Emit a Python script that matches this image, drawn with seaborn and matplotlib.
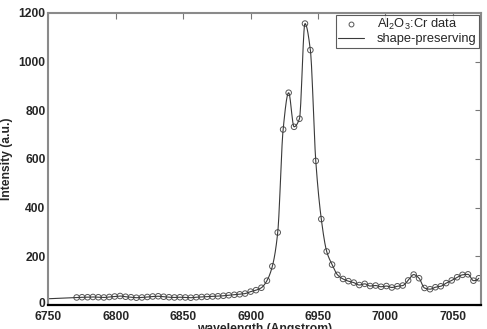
import numpy as np
import pandas as pd
import matplotlib
matplotlib.use("Agg")
import matplotlib.pyplot as plt
from matplotlib.lines import Line2D
import matplotlib.transforms as mtransforms
import seaborn as sns

# ---------------- data ----------------
wavelength = [
    6771.0, 6775.0, 6779.1, 6783.1, 6787.1, 6791.2, 6795.2, 6799.2, 6803.2, 6807.3,
    6811.3, 6815.3, 6819.4, 6823.4, 6827.4, 6831.5, 6835.5, 6839.5, 6843.5, 6847.6,
    6851.6, 6855.6, 6859.7, 6863.7, 6867.7, 6871.8, 6875.8, 6879.8, 6883.8, 6887.9,
    6891.9, 6895.9, 6900.0, 6904.0, 6908.0, 6912.1, 6916.1, 6920.1, 6924.1, 6928.2,
    6932.2, 6936.2, 6940.3, 6944.3, 6948.3, 6952.4, 6956.4, 6960.4, 6964.4, 6968.5,
    6972.5, 6976.5, 6980.6, 6984.6, 6988.6, 6992.7, 6996.7, 7000.7, 7004.7, 7008.8,
    7012.8, 7016.8, 7020.9, 7024.9, 7028.9, 7033.0, 7037.0, 7041.0, 7045.0, 7049.1,
    7053.1, 7057.1, 7061.2, 7065.2, 7069.2,
]
intensity = [
    31, 32, 32, 33, 32, 31, 33, 35, 37, 34,
    32, 30, 31, 33, 35, 36, 34, 32, 31, 32,
    31, 30, 32, 33, 34, 35, 36, 38, 40, 42,
    44, 47, 55, 61, 71, 100, 159, 298, 721, 872,
    732, 765, 1156, 1047, 592, 353, 220, 166, 124, 107,
    98, 92, 82, 87, 78, 80, 75, 78, 72, 77,
    80, 101, 125, 110, 70, 65, 73, 77, 90, 101,
    114, 124, 126, 100, 110,
]
series_labels = ["Al$_2$O$_3$:Cr data", "shape-preserving"]
x_ticks = [6750, 6800, 6850, 6900, 6950, 7000, 7050]
y_ticks = [0, 200, 400, 600, 800, 1000, 1200]
title_text = "Al$_2$O$_3$:Cr fluorescence spectrum"
x_label = "wavelength (Angstrom)"
y_label = "Intensity (a.u.)"


# ---------------- shape-preserving (PCHIP) interpolant ----------------
def pchip(x, y, xq):
    x = np.asarray(x, float)
    y = np.asarray(y, float)
    h = np.diff(x)
    delta = np.diff(y) / h
    n = len(x)
    d = np.zeros(n)
    for k in range(1, n - 1):
        if delta[k - 1] * delta[k] > 0:
            w1 = 2 * h[k] + h[k - 1]
            w2 = h[k] + 2 * h[k - 1]
            d[k] = (w1 + w2) / (w1 / delta[k - 1] + w2 / delta[k])

    def end(h0, h1, d0, d1):
        dd = ((2 * h0 + h1) * d0 - h0 * d1) / (h0 + h1)
        if np.sign(dd) != np.sign(d0):
            dd = 0.0
        elif np.sign(d0) != np.sign(d1) and abs(dd) > abs(3 * d0):
            dd = 3 * d0
        return dd

    d[0] = end(h[0], h[1], delta[0], delta[1])
    d[-1] = end(h[-1], h[-2], delta[-1], delta[-2])
    xq = np.asarray(xq, float)
    xi = np.clip(xq, x[0], x[-1])
    idx = np.clip(np.searchsorted(x, xi) - 1, 0, n - 2)
    t = (xi - x[idx]) / h[idx]
    h00 = 2 * t**3 - 3 * t**2 + 1
    h10 = t**3 - 2 * t**2 + t
    h01 = -2 * t**3 + 3 * t**2
    h11 = t**3 - t**2
    out = (h00 * y[idx] + h10 * h[idx] * d[idx] + h01 * y[idx + 1]
           + h11 * h[idx] * d[idx + 1])
    # linear extension (secant slope) outside the sampled range
    left = xq < x[0]
    out[left] = y[0] + delta[0] * (xq[left] - x[0])
    return out


df = pd.DataFrame({"wavelength": wavelength, "intensity": intensity})
xq = np.linspace(x_ticks[0], wavelength[-1], 1200)
curve = pd.DataFrame({"wavelength": xq, "intensity": pchip(wavelength, intensity, xq)})

# ---------------- figure ----------------
sns.set_style("white")
plt.rcParams["font.family"] = ["Liberation Sans", "DejaVu Sans"]
plt.rcParams["mathtext.fontset"] = "custom"
plt.rcParams["mathtext.rm"] = "Liberation Sans"
plt.rcParams["mathtext.it"] = "Liberation Sans:italic"
plt.rcParams["mathtext.bf"] = "Liberation Sans:bold"

fig = plt.figure(figsize=(4.87, 3.29), dpi=100)
ax = fig.add_axes([0.0992, 0.0729, 0.889, 0.888])

line_color = "#3a3a3a"
marker_color = "#555555"

sns.lineplot(data=curve, x="wavelength", y="intensity", ax=ax, color=line_color,
             linewidth=0.8, estimator=None, sort=False, legend=False)
sns.scatterplot(data=df, x="wavelength", y="intensity", ax=ax, marker="o", s=16,
                facecolors="none", edgecolor=marker_color, linewidth=0.7, legend=False)

ax.set_xlim(6750, 7071)
ax.set_ylim(0, 1200)
ax.set_xticks(x_ticks)
ax.set_yticks(y_ticks)
ax.set_xticklabels([str(v) for v in x_ticks], fontsize=8.7, fontweight="bold")
ax.set_yticklabels([str(v) for v in y_ticks], fontsize=8.7, fontweight="bold")
ax.tick_params(direction="in", length=4, width=0.8, top=True, right=True,
               color="#777777")
ax.tick_params(axis="y", pad=2)
ax.tick_params(axis="x", pad=4)

# the "0" label sits slightly above the axis line, as in the reference
zero_lbl = ax.get_yticklabels()[0]
zero_lbl.set_transform(zero_lbl.get_transform()
                       + mtransforms.ScaledTranslation(0, 3 / 100, fig.dpi_scale_trans))

ax.set_xlabel(x_label, fontsize=8.7, fontweight="bold", labelpad=0)
ax.set_ylabel(y_label, fontsize=8.7, fontweight="bold", labelpad=4)

for side in ["left", "top", "right"]:
    ax.spines[side].set_color("#8a8a8a")
    ax.spines[side].set_linewidth(1.5)
ax.spines["bottom"].set_color("black")
ax.spines["bottom"].set_linewidth(1.6)

handles = [
    Line2D([], [], linestyle="none", marker="o", markersize=3.5,
           markerfacecolor="none", markeredgecolor=marker_color, markeredgewidth=0.7),
    Line2D([], [], color=line_color, linewidth=0.8),
]
leg = ax.legend(handles, series_labels, loc="upper right", fontsize=9.3,
                frameon=True, fancybox=False, edgecolor="#333333",
                borderpad=0.2, labelspacing=0.05, handlelength=2.0,
                handletextpad=1.0, borderaxespad=0.15)
leg.get_frame().set_linewidth(0.8)

fig.text(185 / 487, 1 + 3 / 329, title_text, fontsize=9, ha="left",
         va="baseline")

fig.savefig("out.png", dpi=100)
